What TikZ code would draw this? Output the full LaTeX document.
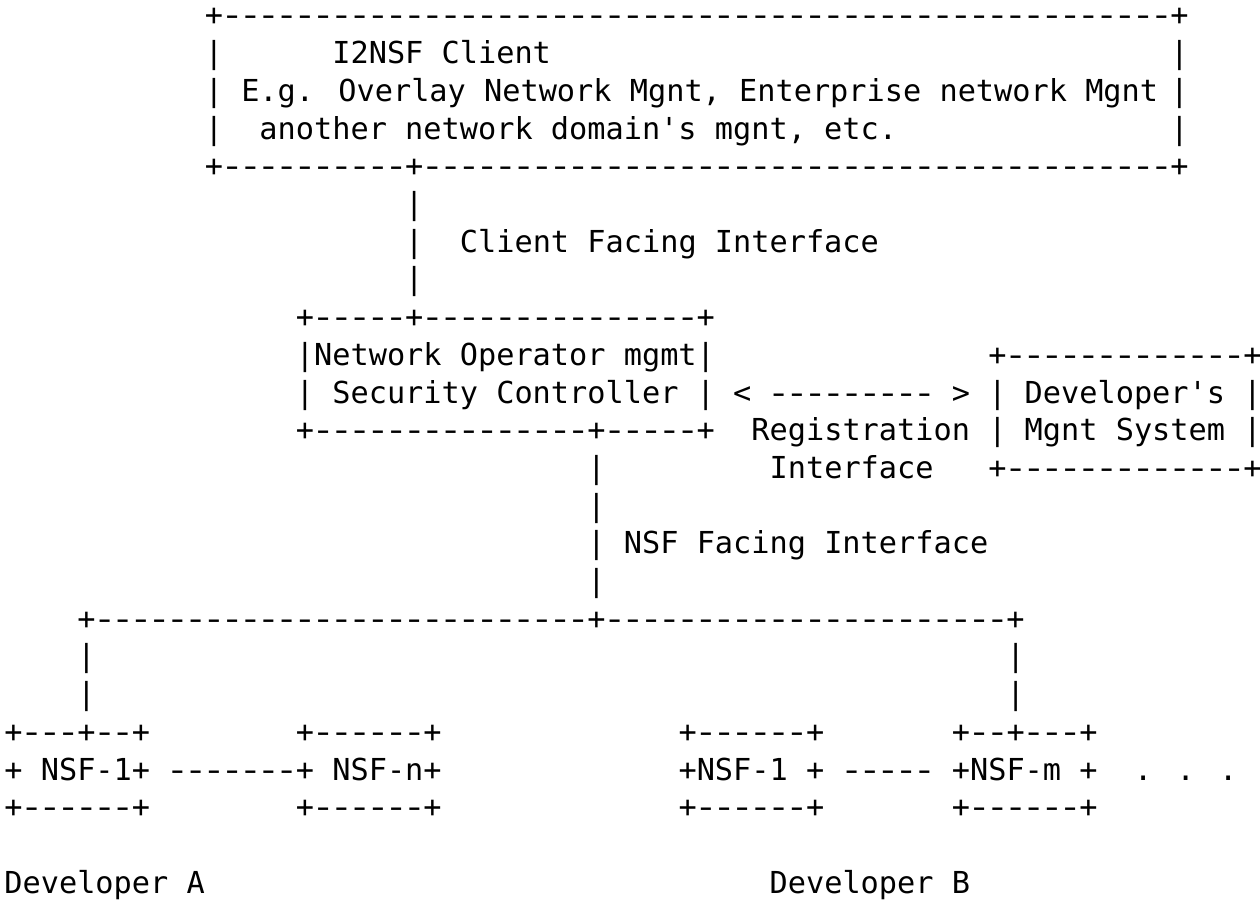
\documentclass[tikz,border=0pt]{standalone}
\usepackage{fontspec}
\usepackage{graphicx}
\newfontfamily\asciifont[Ligatures=TeXOff]{DejaVu Sans Mono}

% one hyphen cell, drawn a little wider so box edges read as lines
\newcommand\dashcell{\makebox[0.6021em][c]{\scalebox{1.3}[1]{-}}}
% a run of n hyphen cells
\ExplSyntaxOn
\cs_new:Npn \dashrun #1 { \prg_replicate:nn {#1} {\dashcell} }
\ExplSyntaxOff

% character grid: 18.22pt per column, 37.7pt per row
\tikzset{
  glyphs/.style={anchor=base west, inner sep=0pt, outer sep=0pt,
    font=\asciifont\fontsize{30.26pt}{37.7pt}\selectfont, text=black},
}
% \asc{row}{column}{text}
\newcommand\asc[3]{\node[glyphs] (r#1c#2) at ({4.4pt+18.22pt*#2},{-26pt-37.7pt*#1}) {#3};}

\begin{document}
\begin{tikzpicture}
\useasboundingbox[fill=white] (0,0) rectangle (1260pt,-901pt);

% I2NSF client box
\asc{0}{11}{+\dashrun{52}+}
\asc{1}{11}{|} \asc{1}{18}{I2NSF Client} \asc{1}{64}{|}
\asc{2}{11}{|} \asc{2}{13}{E.g. Overlay Network Mgnt, Enterprise network Mgnt} \asc{2}{64}{|}
\asc{3}{11}{|} \asc{3}{14}{another network domain's mgnt, etc.} \asc{3}{64}{|}
\asc{4}{11}{+\dashrun{10}+\dashrun{41}+}

% client facing interface
\asc{5}{22}{|}
\asc{6}{22}{|} \asc{6}{25}{Client Facing Interface}
\asc{7}{22}{|}

% security controller and developer's management system
\asc{8}{16}{+\dashrun{5}+\dashrun{15}+}
\asc{9}{16}{|Network Operator mgmt|} \asc{9}{54}{+\dashrun{13}+}
\asc{10}{16}{| Security Controller |} \asc{10}{40}{< \dashrun{9} >} \asc{10}{54}{| Developer's |}
\asc{11}{16}{+\dashrun{15}+\dashrun{5}+} \asc{11}{41}{Registration} \asc{11}{54}{| Mgnt System |}
\asc{12}{32}{|} \asc{12}{42}{Interface} \asc{12}{54}{+\dashrun{13}+}

% NSF facing interface
\asc{13}{32}{|}
\asc{14}{32}{|} \asc{14}{34}{NSF Facing Interface}
\asc{15}{32}{|}
\asc{16}{4}{+\dashrun{27}+\dashrun{22}+}
\asc{17}{4}{|} \asc{17}{55}{|}
\asc{18}{4}{|} \asc{18}{55}{|}

% NSF boxes
\asc{19}{0}{+\dashrun{3}+\dashrun{2}+} \asc{19}{16}{+\dashrun{6}+} \asc{19}{37}{+\dashrun{6}+} \asc{19}{52}{+\dashrun{2}+\dashrun{3}+}
\asc{20}{0}{+ NSF-1+} \asc{20}{9}{\dashrun{7}} \asc{20}{16}{+ NSF-n+}
\asc{20}{37}{+NSF-1 +} \asc{20}{46}{\dashrun{5}} \asc{20}{52}{+NSF-m +} \asc{20}{62}{. . .}
\asc{21}{0}{+\dashrun{6}+} \asc{21}{16}{+\dashrun{6}+} \asc{21}{37}{+\dashrun{6}+} \asc{21}{52}{+\dashrun{6}+}

% vendors
\asc{23}{0}{Developer A} \asc{23}{42}{Developer B}
\end{tikzpicture}
\end{document}
